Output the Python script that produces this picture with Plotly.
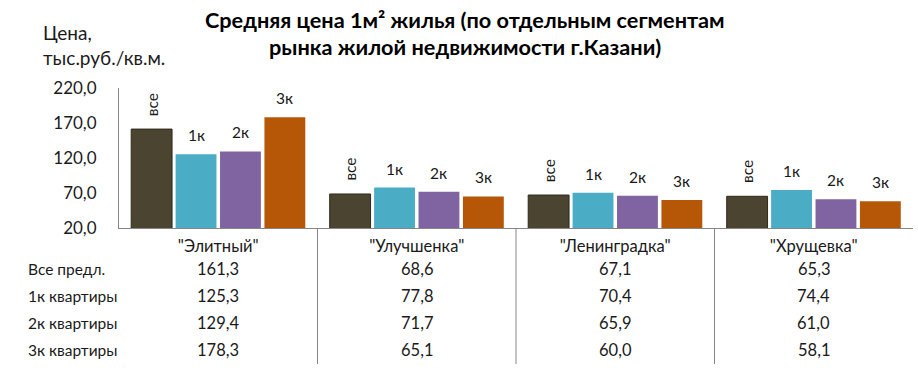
import plotly.graph_objects as go

categories = ['"Элитный"', '"Улучшенка"', '"Ленинградка"', '"Хрущевка"']
row_names = ["Все предл.", "1к квартиры", "2к квартиры", "3к квартиры"]
bar_labels = ["все", "1к", "2к", "3к"]
vals_all = [161.3, 68.6, 67.1, 65.3]
vals_1k = [125.3, 77.8, 70.4, 74.4]
vals_2k = [129.4, 71.7, 65.9, 61.0]
vals_3k = [178.3, 65.1, 60.0, 58.1]
y_ticks = [20, 70, 120, 170, 220]

series = [vals_all, vals_1k, vals_2k, vals_3k]
colors = ["#4A4430", "#4BACC6", "#8064A2", "#B65708"]
FONT = "Lato, 'Noto Sans', sans-serif"
BARGAP = 0.105
BARGROUPGAP = 0.08

W, H = 918, 371
L, R = 119, 913
plot_top, plot_bot = 88, 228.5
h = plot_bot - plot_top
w = R - L

fig = go.Figure()
for j, (vals, name) in enumerate(zip(series, row_names)):
    fig.add_trace(go.Bar(
        x=list(range(len(categories))), y=vals, name=name,
        marker=dict(color=colors[j],
                    line=dict(color="#2E2A1C" if j == 0 else colors[j], width=1 if j == 0 else 0)),
        hoverinfo="y+name",
    ))

annotations = []
# labels above bars
for j, vals in enumerate(series):
    for i, v in enumerate(vals):
        xo = i + (j - 1.5) * (1 - BARGAP) / 4
        annotations.append(dict(x=xo, y=v, xref="x", yref="y", text=bar_labels[j],
                                textangle=-90 if j == 0 else 0, showarrow=False,
                                yanchor="bottom", yshift=11 if j == 0 else 8,
                                font=dict(size=15.5, color="#1a1a1a")))

# data table below
row_px = [270, 297, 324, 351]
for r, (name, vals) in enumerate(zip(row_names, series)):
    yp = (plot_bot - row_px[r]) / h
    annotations.append(dict(x=(26 - L) / w, y=yp, xref="paper", yref="paper", text=name,
                            showarrow=False, xanchor="left", yanchor="middle",
                            font=dict(size=15.5, color="#1a1a1a")))
    for i, v in enumerate(vals):
        annotations.append(dict(x=i, y=yp, xref="x", yref="paper",
                                text=f"{v:.1f}".replace(".", ","),
                                showarrow=False, xanchor="center", yanchor="middle",
                                font=dict(size=16.5, color="#1a1a1a")))

# y axis title (two lines)
for txt, py in [("Цена,", 32), ("тыс.руб./кв.м.", 57)]:
    annotations.append(dict(x=(41 - L) / w, y=(plot_bot - py) / h, xref="paper", yref="paper",
                            text=txt, showarrow=False, xanchor="left", yanchor="middle",
                            font=dict(size=19, color="#1a1a1a")))

# title (two lines)
for txt, py in [("Средняя цена 1м² жилья (по отдельным сегментам", 20),
                ("рынка жилой недвижимости г.Казани)", 47)]:
    annotations.append(dict(x=(465 - L) / w, y=(plot_bot - py) / h, xref="paper", yref="paper",
                            text=f"<b>{txt}</b>", showarrow=False, xanchor="center",
                            yanchor="middle", font=dict(size=21.7, color="#000000")))

shapes = []
for b in [0.5, 1.5, 2.5]:
    shapes.append(dict(type="line", xref="x", yref="paper", x0=b, x1=b, y0=0,
                       y1=(plot_bot - 365) / h, line=dict(color="#868686", width=1)))

fig.update_layout(
    width=W, height=H,
    margin=dict(l=L, r=W - R, t=plot_top, b=H - plot_bot, autoexpand=False),
    paper_bgcolor="white", plot_bgcolor="white",
    barmode="group", bargap=BARGAP, bargroupgap=BARGROUPGAP,
    showlegend=False,
    separators=", ",
    font=dict(family=FONT, color="#1a1a1a"),
    xaxis=dict(tickmode="array", tickvals=list(range(len(categories))), ticktext=categories,
               range=[-0.5, len(categories) - 0.5], automargin=False,
               showline=True, linecolor="#868686", linewidth=1, ticks="",
               showgrid=False, tickfont=dict(size=16.5), zeroline=False, ticklabelstandoff=3),
    yaxis=dict(range=[20, 220], tickvals=y_ticks, tickformat=".1f", automargin=False,
               showline=True, linecolor="#868686", linewidth=1, ticks="",
               showgrid=False, zeroline=False, tickfont=dict(size=17), ticklabelstandoff=18),
    annotations=annotations,
    shapes=shapes,
)

fig.write_html("out.html", config={"displayModeBar": False},
               post_script="document.body.style.margin='0';document.body.style.overflow='hidden';")
